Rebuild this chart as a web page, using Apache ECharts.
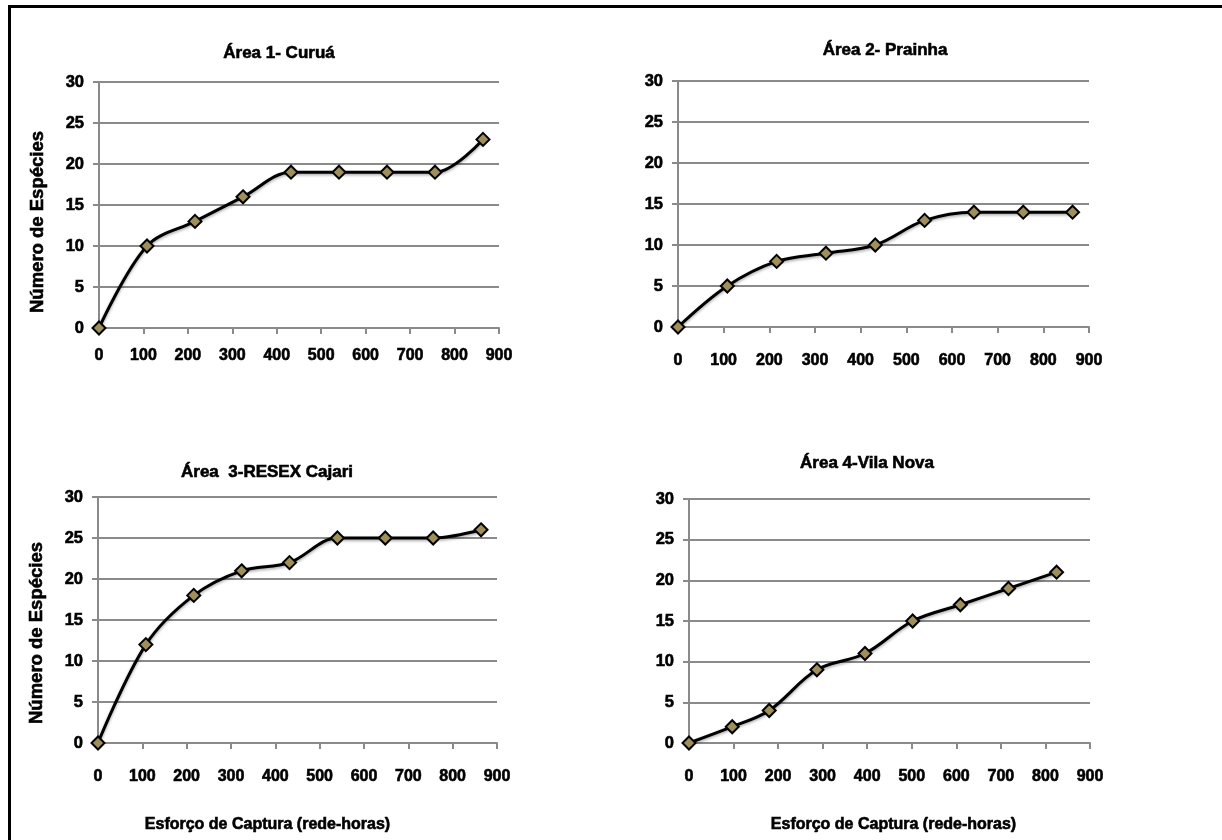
<!DOCTYPE html>
<html>
<head>
<meta charset="utf-8">
<title>Curvas de acumulação de espécies</title>
<script src="https://cdn.jsdelivr.net/npm/echarts@6/dist/echarts.min.js"></script>
<style>
  html, body { margin: 0; padding: 0; background: #ffffff; }
  #chart { width: 1222px; height: 840px; }
</style>
</head>
<body>
<div id="chart"></div>
<script>
// Esforço de captura (rede-horas) at each sampling step
const effort = [0, 108, 216, 324, 432, 540, 648, 756, 864];
const effortVilaNova = [0, 97, 180, 287, 395, 502, 609, 717, 825];

// Cumulative number of species per area
const curua = [0, 10, 13, 16, 19, 19, 19, 19, 23];
const prainha = [0, 5, 8, 9, 10, 13, 14, 14, 14];
const cajari = [0, 12, 18, 21, 22, 25, 25, 25, 26];
const vilaNova = [0, 2, 4, 9, 11, 15, 17, 19, 21];

const panelTitles = ['Área 1- Curuá', 'Área 2- Prainha', 'Área  3-RESEX Cajari', 'Área 4-Vila Nova'];
const xName = 'Esforço de Captura (rede-horas)';
const yName = 'Número de Espécies';

const FONT = '"Liberation Sans", Arial, sans-serif';
const GRID_GRAY = '#8a8a8a';

// Plot rectangles for the four panels
const grids = [
  { left: 99, top: 82, width: 400, height: 246 },
  { left: 678, top: 81, width: 411, height: 246 },
  { left: 98, top: 497, width: 399, height: 246 },
  { left: 689, top: 499, width: 401, height: 244 }
];

const panels = [
  { xs: effort, ys: curua, yLabel: true, xLabel: false, xMargin: 20, namePad: [0, 0, 0, 0] },
  { xs: effort, ys: prainha, yLabel: false, xLabel: false, xMargin: 26, namePad: [0, 0, 0, 0] },
  { xs: effort, ys: cajari, yLabel: true, xLabel: true, xMargin: 26, namePad: [0, 60, 0, 0] },
  { xs: effortVilaNova, ys: vilaNova, yLabel: false, xLabel: true, xMargin: 26, namePad: [0, 0, 0, 8] }
];

// Heavy black text, slightly stroked to thicken the strokes
const heavy = { fontFamily: FONT, fontWeight: 'bold', color: '#000', textBorderColor: '#000', textBorderWidth: 0.6 };

const xAxes = panels.map((p, i) => ({
  type: 'value',
  gridIndex: i,
  min: 0, max: 900, interval: 100,
  name: p.xLabel ? xName : '',
  nameLocation: 'middle',
  nameGap: 74,
  nameTextStyle: Object.assign({ fontSize: 16, padding: p.namePad }, heavy),
  axisLine: { show: true, lineStyle: { color: GRID_GRAY, width: 2 } },
  axisTick: { show: true, inside: false, length: 6, lineStyle: { color: GRID_GRAY, width: 2 } },
  axisLabel: Object.assign({ margin: p.xMargin, fontSize: 16 }, heavy),
  splitLine: { show: false }
}));

const yAxes = panels.map((p, i) => ({
  type: 'value',
  gridIndex: i,
  min: 0, max: 30, interval: 5,
  name: p.yLabel ? yName : '',
  nameLocation: 'middle',
  nameRotate: 90,
  nameGap: 52,
  nameTextStyle: Object.assign({ fontSize: 18.5, padding: [0, i === 0 ? 34 : 26, 0, 0] }, heavy),
  axisLine: { show: true, lineStyle: { color: GRID_GRAY, width: 2 } },
  axisTick: { show: true, inside: false, length: 6, lineStyle: { color: GRID_GRAY, width: 2 } },
  axisLabel: Object.assign({ margin: 15, fontSize: 16.5 }, heavy),
  splitLine: { show: true, lineStyle: { color: GRID_GRAY, width: 2 } }
}));

const series = panels.map((p, i) => ({
  type: 'line',
  xAxisIndex: i,
  yAxisIndex: i,
  data: p.xs.map((x, k) => [x, p.ys[k]]),
  smooth: 0.35,
  symbol: 'diamond',
  symbolSize: [13, 13],
  lineStyle: { color: '#000', width: 3, shadowColor: 'rgba(0,0,0,0.35)', shadowBlur: 3, shadowOffsetY: 1.5 },
  itemStyle: { color: '#a08f58', borderColor: '#000', borderWidth: 2 },
  z: 3
}));

// Panel headings
const titleSpots = [[279, 53], [885, 50], [267, 472], [867, 463]];
const titleGraphics = panelTitles.map((t, i) => ({
  type: 'text',
  x: titleSpots[i][0],
  y: titleSpots[i][1],
  style: {
    text: t, fill: '#000', font: 'bold 17px ' + FONT,
    stroke: '#000', lineWidth: 0.6,
    textAlign: 'center', textVerticalAlign: 'middle'
  }
}));

// Outer frame (top and left edges)
const frame = [
  { type: 'rect', shape: { x: 8, y: 5, width: 1214, height: 3 }, style: { fill: '#000' } },
  { type: 'rect', shape: { x: 8, y: 5, width: 3, height: 835 }, style: { fill: '#000' } }
];

const chart = echarts.init(document.getElementById('chart'), null, { renderer: 'canvas' });
chart.setOption({
  backgroundColor: '#ffffff',
  animation: false,
  grid: grids,
  xAxis: xAxes,
  yAxis: yAxes,
  series: series,
  graphic: frame.concat(titleGraphics)
});
</script>
</body>
</html>
